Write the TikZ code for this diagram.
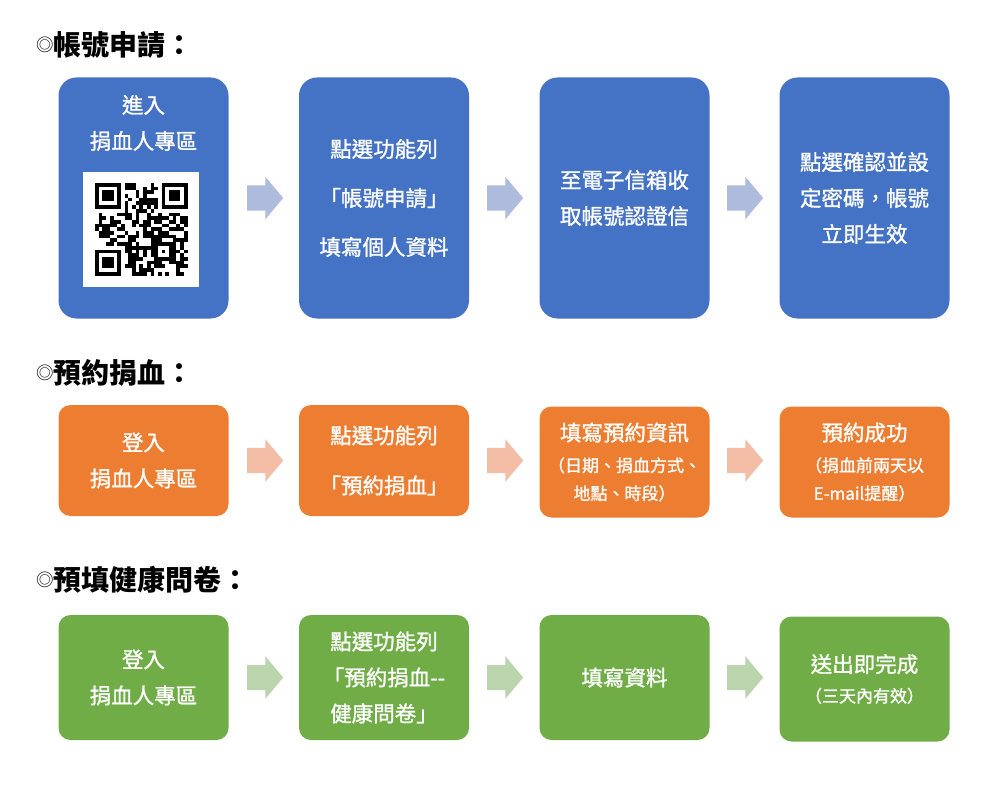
\documentclass[tikz,border=0pt]{standalone}
\usepackage{fontspec}
\setmainfont{Noto Sans CJK TC}
\newfontfamily\medfont{Noto Sans CJK TC}[FakeBold=1.2]
\usetikzlibrary{shapes.arrows}
\definecolor{bbox}{HTML}{4472C4}
\definecolor{obox}{HTML}{ED7D31}
\definecolor{gbox}{HTML}{70AD47}
\definecolor{barr}{HTML}{AFBBDD}
\definecolor{oarr}{HTML}{F4BDA6}
\definecolor{garr}{HTML}{BBD4AD}
\newcommand\sml{\fontsize{17pt}{26pt}\selectfont}
\newcommand\circmark{\raisebox{4pt}{\fontsize{17.5pt}{17.5pt}\mdseries\selectfont ◎}}
\tikzset{
	box/.style={rounded corners=18pt, minimum width=170pt, minimum height=241pt, inner sep=0pt, text=white, align=center, font=\medfont\fontsize{21.5pt}{36pt}\selectfont},
	lowbox/.style={box, rounded corners=12pt, minimum height=#1},
	arr/.style={single arrow, draw=none, anchor=tail, minimum height=36pt, inner xsep=0pt, inner ysep=12.5pt, single arrow head extend=8.5pt, single arrow tip angle=100},
	title/.style={anchor=west, inner sep=0pt, font=\fontsize{28pt}{30pt}\selectfont\bfseries},
}

\begin{document}
\begin{tikzpicture}[x=1pt,y=-1pt]
	\path[fill=white, use as bounding box] (0,0) rectangle (1000,786);

	\node[title] (t1) at (36,45) {\circmark 帳號申請：};
	\node[title] (t2) at (36,373) {\circmark 預約捐血：};
	\node[title] (t3) at (36,580) {\circmark 預填健康問卷：};

	% row 1
	\node[box, fill=bbox] (a1) at (143.5,198) {};
	\node[text=white, align=center, font=\medfont\fontsize{21.5pt}{36pt}\selectfont] (a1t) at (143.5,123) {進入\\捐血人專區};
	\node[box, fill=bbox] (a2) at (384,198) {點選功能列\\[13pt]「帳號申請」\\[13pt]填寫個人資料};
	\node[box, fill=bbox] (a3) at (624.5,198) {至電子信箱收\\取帳號認證信};
	\node[box, fill=bbox] (a4) at (864.5,198) {點選確認並設\\定密碼，帳號\\立即生效};

	\node[arr, fill=barr] (pa1) at (247,198) {};
	\node[arr, fill=barr] (pa2) at (487,198) {};
	\node[arr, fill=barr] (pa3) at (727,198) {};

	% qr code
	\node[fill=white, minimum width=116pt, minimum height=115pt, inner sep=0pt] (qr) at (141,229.5) {};
	\pgfmathsetseed{42}
	\foreach \i in {0,...,24}
		\foreach \j in {0,...,24}{
			\pgfmathtruncatemacro\qbit{((\i<8 && \j<8) || (\i>16 && \j<8) || (\i<8 && \j>16) || (\i>15 && \i<21 && \j>15 && \j<21)) ? 0 : ((\j==6 || \i==6) ? 1-mod(\i+\j,2) : (rnd<0.55 ? 1 : 0))}
			\ifnum\qbit=1 \fill (95+3.7*\i,183+3.7*\j) rectangle ++(3.7,3.7); \fi
		}
	\foreach \fx/\fy in {0/0,18/0,0/18}{
		\fill (95+3.7*\fx,183+3.7*\fy) rectangle ++(25.9,25.9);
		\fill[white] (98.7+3.7*\fx,186.7+3.7*\fy) rectangle ++(18.5,18.5);
		\fill (102.4+3.7*\fx,190.4+3.7*\fy) rectangle ++(11.1,11.1);
	}
	\fill (154.2,242.2) rectangle ++(18.5,18.5);
	\fill[white] (157.9,245.9) rectangle ++(11.1,11.1);
	\fill (161.6,249.6) rectangle ++(3.7,3.7);

	% row 2
	\node[lowbox=111pt, fill=obox] (b1) at (143.5,460.5) {登入\\捐血人專區};
	\node[lowbox=111pt, fill=obox] (b2) at (384,460.5) {點選功能列\\[14pt]「預約捐血」};
	\node[lowbox=111pt, fill=obox] (b3) at (624.5,462) {填寫預約資訊\\[-5pt]\sml （日期、捐血方式、\\[-8pt]\sml 地點、時段）};
	\node[lowbox=111pt, fill=obox] (b4) at (864.5,462) {預約成功\\[-5pt]\sml （捐血前兩天以\\[-8pt]\sml E-mail提醒）};

	\node[arr, fill=oarr] (pb1) at (247,460.5) {};
	\node[arr, fill=oarr] (pb2) at (487,460.5) {};
	\node[arr, fill=oarr] (pb3) at (727,460.5) {};

	% row 3
	\node[lowbox=125pt, fill=gbox] (c1) at (143.5,677.5) {登入\\捐血人專區};
	\node[lowbox=125pt, fill=gbox] (c2) at (384,677.5) {點選功能列\\「預約捐血-{}-\\健康問卷」};
	\node[lowbox=125pt, fill=gbox] (c3) at (624.5,677.5) {填寫資料};
	\node[lowbox=125pt, fill=gbox] (c4) at (864.5,679) {送出即完成\\[-6pt]\sml （三天內有效）};

	\node[arr, fill=garr] (pc1) at (247,677.5) {};
	\node[arr, fill=garr] (pc2) at (487,677.5) {};
	\node[arr, fill=garr] (pc3) at (727,677.5) {};
\end{tikzpicture}
\end{document}
